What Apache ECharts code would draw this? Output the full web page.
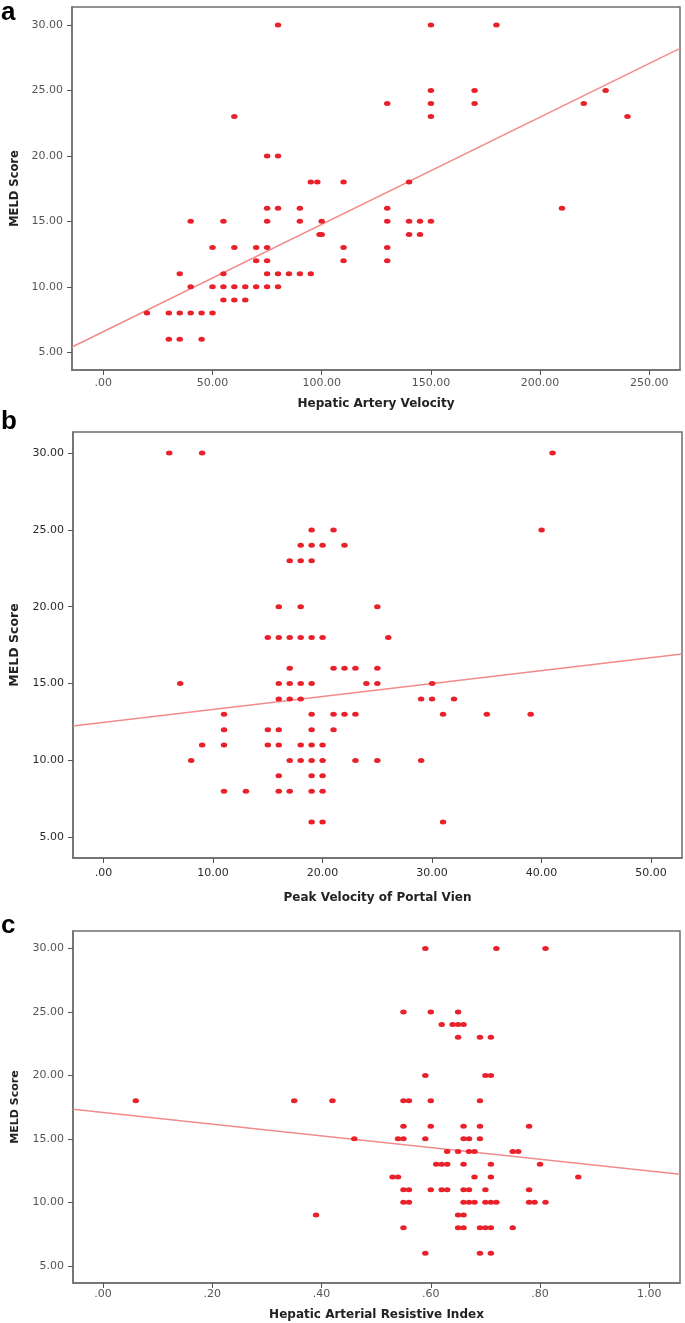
<!DOCTYPE html>
<html><head><meta charset="utf-8">
<script src="https://cdn.jsdelivr.net/npm/echarts@6/dist/echarts.min.js"></script>
<style>html,body{margin:0;padding:0;background:#fff}#c{width:685px;height:1323px}</style>
</head><body><div id="c"></div>
<script>
// ---------- Panel a: Hepatic Artery Velocity vs MELD ----------
const velocityA = [
  80,150,180,
  150,170,230,
  130,150,170,220,
  60,150,240,
  75,80,
  95,98,110,140,
  75,80,90,130,210,
  40,55,75,90,100,130,140,145,150,
  99,100,140,145,
  50,60,70,75,110,130,
  70,75,110,130,
  35,55,75,80,85,90,95,
  40,50,55,60,65,70,75,80,
  55,60,65,
  20,30,35,40,45,50,
  30,35,45
];
const meldA = [
  30,30,30,
  25,25,25,
  24,24,24,24,
  23,23,23,
  20,20,
  18,18,18,18,
  16,16,16,16,16,
  15,15,15,15,15,15,15,15,15,
  14,14,14,14,
  13,13,13,13,13,13,
  12,12,12,12,
  11,11,11,11,11,11,11,
  10,10,10,10,10,10,10,10,
  9,9,9,
  8,8,8,8,8,8,
  6,6,6
];
// ---------- Panel b: Peak Velocity of Portal Vein vs MELD ----------
const velocityB = [
  6,9,41,
  19,21,40,
  18,19,20,22,
  17,18,19,
  16,18,25,
  15,16,17,18,19,20,26,
  17,21,22,23,25,
  7,16,17,18,19,24,25,30,
  16,17,18,29,30,32,
  11,19,21,22,23,31,35,39,
  11,15,16,19,21,
  9,11,15,16,18,19,20,
  8,17,18,19,20,23,25,29,
  16,19,20,
  11,13,16,17,19,20,
  19,20,31
];
const meldB = [
  30,30,30,
  25,25,25,
  24,24,24,24,
  23,23,23,
  20,20,20,
  18,18,18,18,18,18,18,
  16,16,16,16,16,
  15,15,15,15,15,15,15,15,
  14,14,14,14,14,14,
  13,13,13,13,13,13,13,13,
  12,12,12,12,12,
  11,11,11,11,11,11,11,
  10,10,10,10,10,10,10,10,
  9,9,9,
  8,8,8,8,8,8,
  6,6,6
];
// ---------- Panel c: Hepatic Arterial Resistive Index vs MELD ----------
const resistiveC = [
  0.59,0.72,0.81,
  0.55,0.60,0.65,
  0.62,0.64,0.65,0.66,
  0.65,0.69,0.71,
  0.59,0.70,0.71,
  0.06,0.35,0.42,0.55,0.56,0.60,0.69,
  0.55,0.60,0.66,0.69,0.78,
  0.46,0.54,0.55,0.59,0.66,0.67,0.69,
  0.63,0.65,0.67,0.68,0.75,0.76,
  0.61,0.62,0.63,0.66,0.71,0.80,
  0.53,0.54,0.68,0.71,0.87,
  0.55,0.56,0.60,0.62,0.63,0.66,0.67,0.70,0.78,
  0.55,0.56,0.66,0.67,0.68,0.70,0.71,0.72,0.78,0.79,0.81,
  0.39,0.65,0.66,
  0.55,0.65,0.66,0.69,0.70,0.71,0.75,
  0.59,0.69,0.71
];
const meldC = [
  30,30,30,
  25,25,25,
  24,24,24,24,
  23,23,23,
  20,20,20,
  18,18,18,18,18,18,18,
  16,16,16,16,16,
  15,15,15,15,15,15,15,
  14,14,14,14,14,14,
  13,13,13,13,13,13,
  12,12,12,12,12,
  11,11,11,11,11,11,11,11,11,
  10,10,10,10,10,10,10,10,10,10,10,
  9,9,9,
  8,8,8,8,8,8,8,
  6,6,6
];
// Fit lines: [intercept, slope]
const fitA = [6.58, 0.0819];
const fitB = [12.47, 0.0842];
const fitC = [17.08, -4.60];
// Tick values
const yTicks = [5, 10, 15, 20, 25, 30];
const xTicksA = [0, 50, 100, 150, 200, 250];
const xTicksB = [0, 10, 20, 30, 40, 50];
const xTicksC = [0, 0.2, 0.4, 0.6, 0.8, 1.0];
const panelLetters = ['a', 'b', 'c'];
const xTitles = ['Hepatic Artery Velocity', 'Peak Velocity of Portal Vien', 'Hepatic Arterial Resistive Index'];
const yTitle = 'MELD Score';

const FONT = 'DejaVu Sans';
const fmt = v => { let s = Number(v).toFixed(2); if (s.startsWith('0.')) s = s.slice(1); return s; };

const panels = [
  {xs: velocityA, ys: meldA, fit: fitA, ticks: xTicksA, xmin: -14.33, xmax: 264.05,
   grid: {left: 72, top: 7, width: 608, height: 363}, lblColor: '#555', xMargin: 8, xGap: 28, yGap: 50, yTitleSize: 11.5, letterTop: 0},
  {xs: velocityB, ys: meldB, fit: fitB, ticks: xTicksB, xmin: -2.79, xmax: 52.82,
   grid: {left: 71, top: 432, width: 611, height: 426}, lblColor: '#2a2a2a', xMargin: 10, xGap: 34, yGap: 52, yTitleSize: 12.5, letterTop: 409},
  {xs: resistiveC, ys: meldC, fit: fitC, ticks: xTicksC, xmin: -0.0549, xmax: 1.0562,
   grid: {left: 73, top: 931, width: 607, height: 352}, lblColor: '#555', xMargin: 6, xGap: 26, yGap: 52, yTitleSize: 11, letterTop: 913}
];
const YMIN = 3.65, YMAX = 31.37;

const option = {
  animation: false,
  backgroundColor: '#fff',
  grid: [], xAxis: [], yAxis: [], series: [], graphic: []
};

panels.forEach((p, i) => {
  option.grid.push(Object.assign({show: true, borderColor: '#6e6e6e', borderWidth: 1.5, backgroundColor: '#fff'}, p.grid));
  option.xAxis.push({
    type: 'value', gridIndex: i, min: p.xmin, max: p.xmax,
    axisLine: {show: true, onZero: false, lineStyle: {color: '#6e6e6e', width: 1.5}},
    axisTick: {show: true, customValues: p.ticks, length: 5, lineStyle: {color: '#555', width: 1}},
    axisLabel: {customValues: p.ticks, formatter: fmt, fontSize: 11, fontFamily: FONT, color: p.lblColor, margin: p.xMargin},
    splitLine: {show: false},
    name: xTitles[i], nameLocation: 'middle', nameGap: p.xGap,
    nameTextStyle: {fontFamily: FONT, fontWeight: 'bold', fontSize: 12, color: '#222'}
  });
  option.yAxis.push({
    type: 'value', gridIndex: i, min: YMIN, max: YMAX,
    axisLine: {show: true, onZero: false, lineStyle: {color: '#6e6e6e', width: 1.5}},
    axisTick: {show: true, customValues: yTicks, length: 5, lineStyle: {color: '#555', width: 1}},
    axisLabel: {customValues: yTicks, formatter: fmt, fontSize: 11, fontFamily: FONT, color: p.lblColor, margin: 9},
    splitLine: {show: false},
    name: yTitle, nameLocation: 'middle', nameGap: p.yGap, nameRotate: 90,
    nameTextStyle: {fontFamily: FONT, fontWeight: 'bold', fontSize: p.yTitleSize, color: '#222'}
  });
  option.series.push({
    type: 'line', xAxisIndex: i, yAxisIndex: i, silent: true, symbol: 'none',
    lineStyle: {color: '#f28c8c', width: 1.5},
    data: [[p.xmin, p.fit[0] + p.fit[1] * p.xmin], [p.xmax, p.fit[0] + p.fit[1] * p.xmax]],
    z: 2
  });
  option.series.push({
    type: 'scatter', xAxisIndex: i, yAxisIndex: i,
    symbol: 'circle', symbolSize: [6.5, 5],
    itemStyle: {color: '#e8212b', opacity: 1},
    data: p.xs.map((x, k) => [x, p.ys[k]]),
    z: 3
  });
  option.graphic.push({
    type: 'text', left: 1, top: p.letterTop,
    style: {text: panelLetters[i], fontFamily: 'Liberation Sans', fontWeight: 'bold', fontSize: 26, fill: '#000'}
  });
});

const chart = echarts.init(document.getElementById('c'), null, {renderer: 'canvas'});
chart.setOption(option);
</script>
</body></html>
